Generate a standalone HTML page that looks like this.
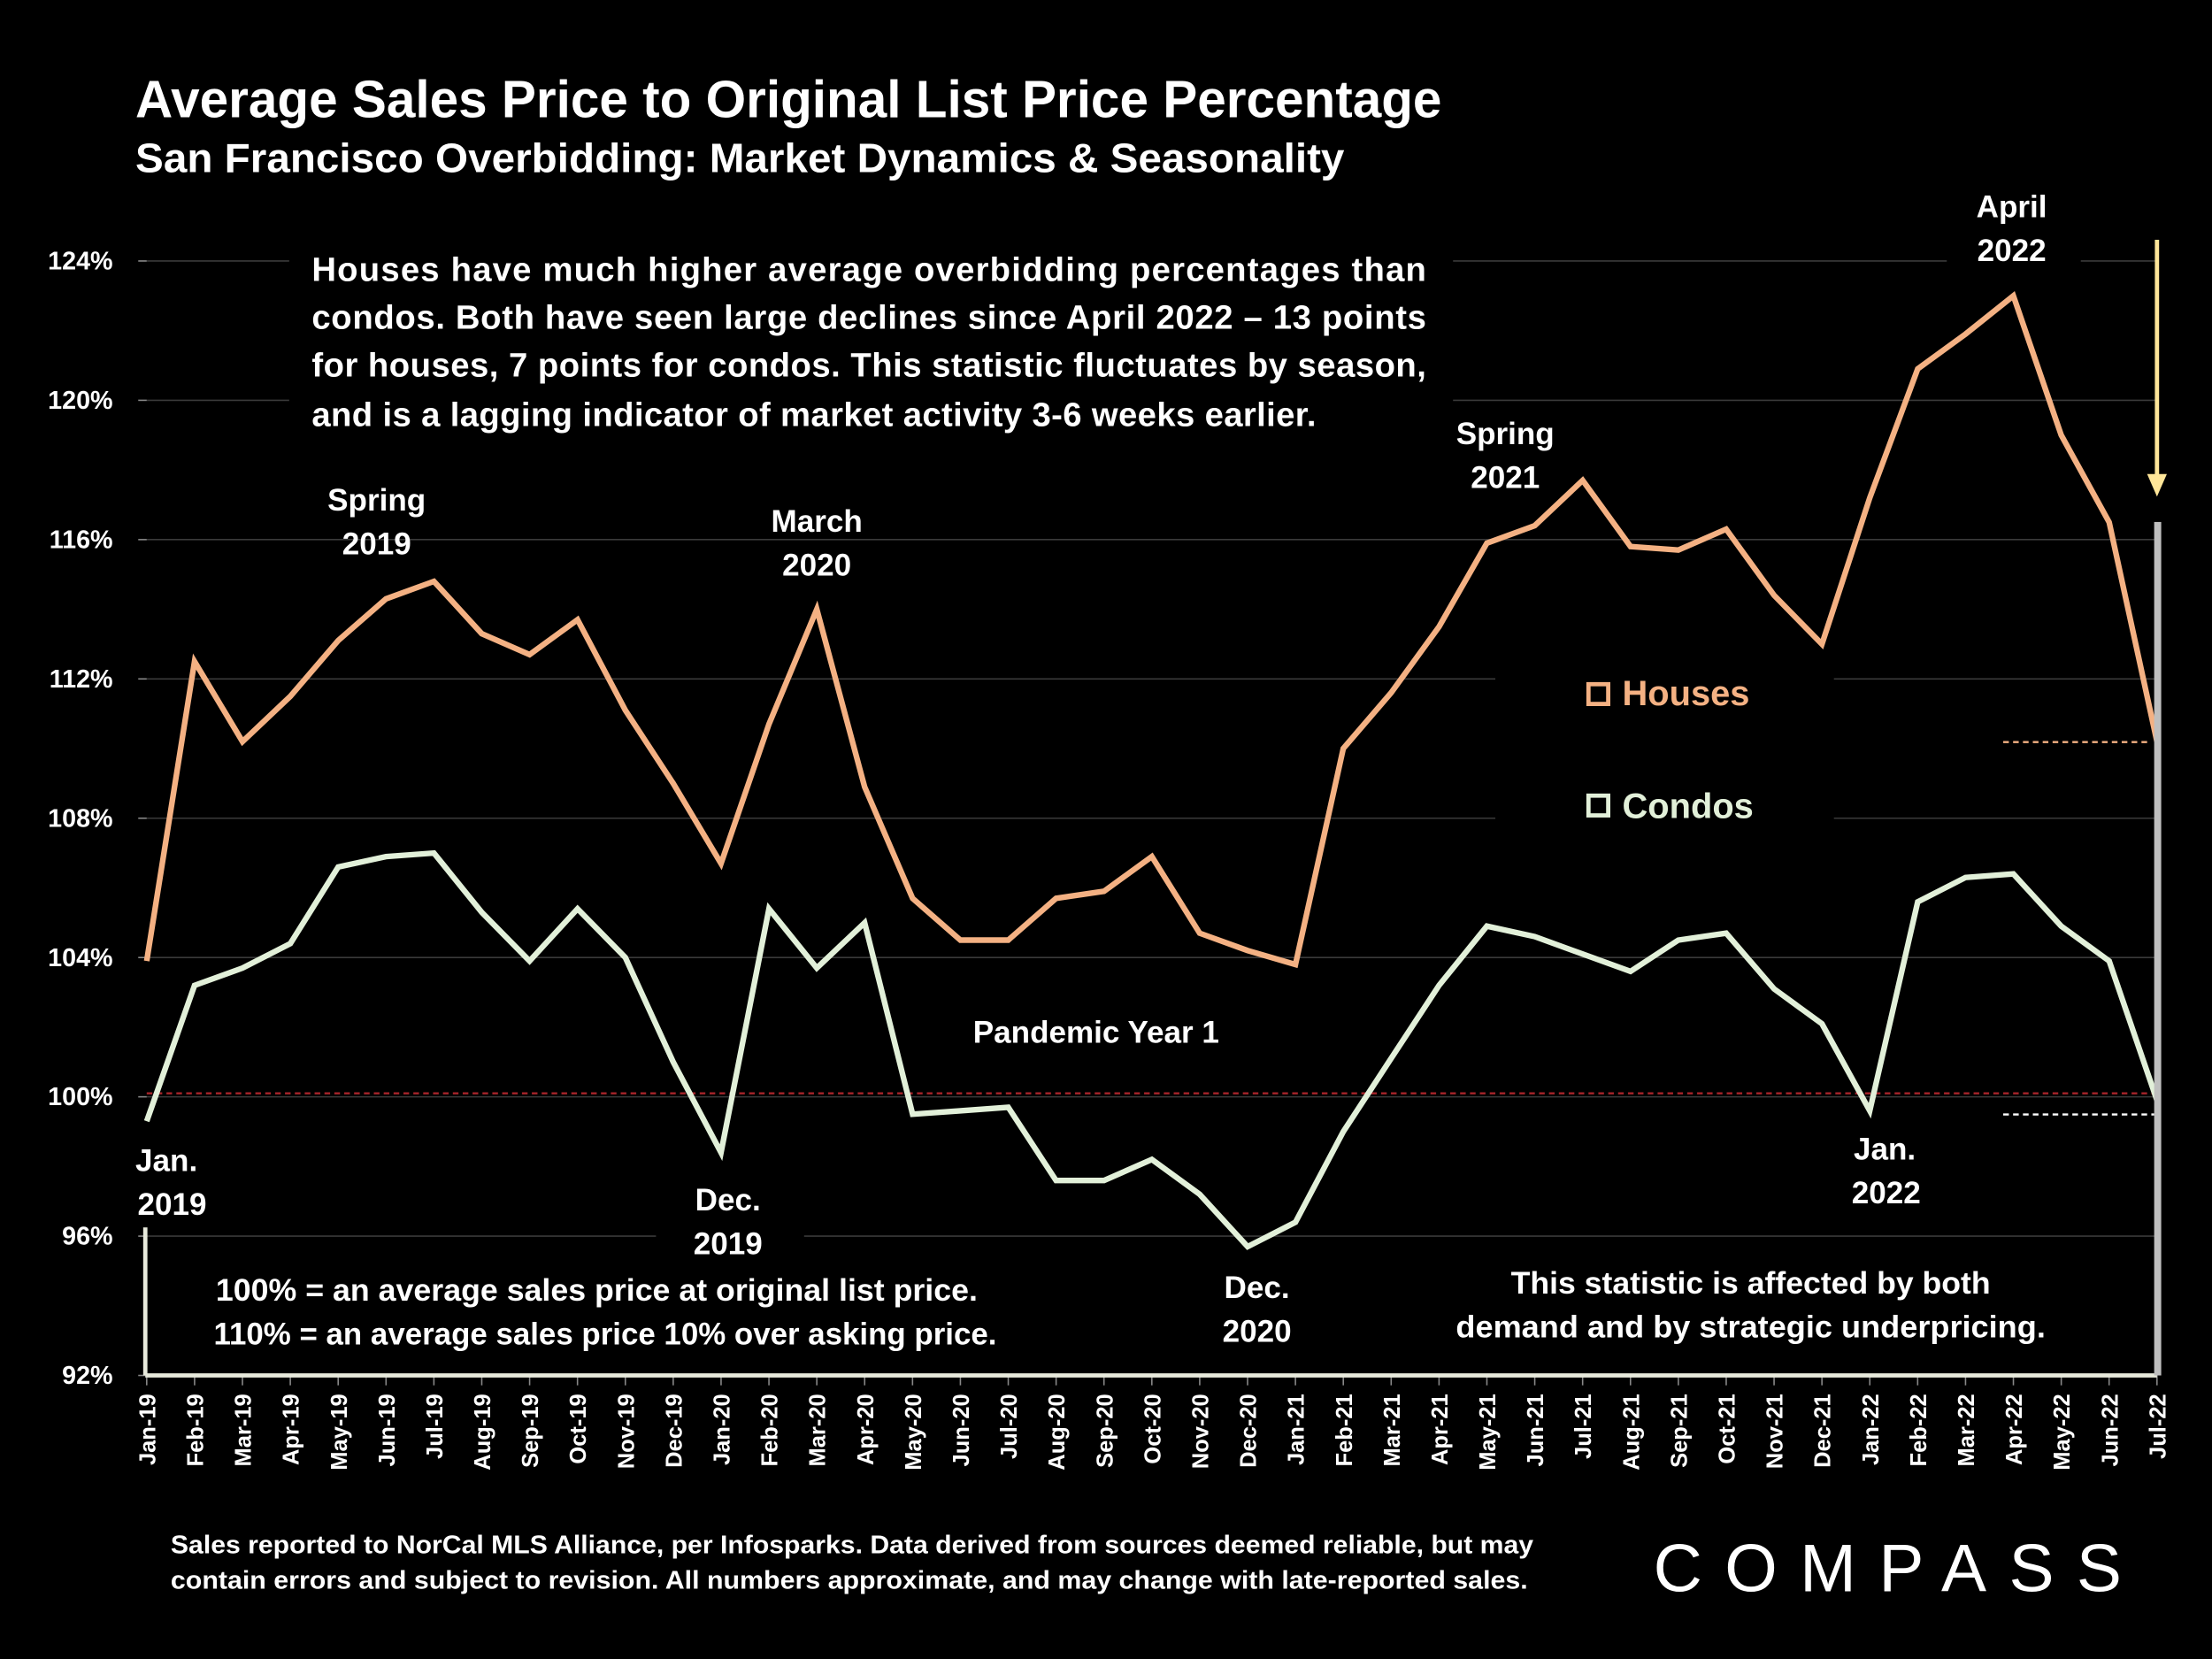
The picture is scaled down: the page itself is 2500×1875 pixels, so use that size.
<!DOCTYPE html>
<html><head><meta charset="utf-8"><style>
html,body{margin:0;padding:0;background:#000;}
svg{display:block;}
text{font-family:"Liberation Sans",sans-serif;font-weight:bold;}
</style></head><body>
<svg id="chart" width="2500" height="1875" viewBox="0 0 1568 1176" xmlns="http://www.w3.org/2000/svg">
<rect width="1568" height="1176" fill="#000"/>
<g id="grid"></g>
<g id="ticks"></g>
<line x1="104" y1="775" x2="1529" y2="775" stroke="#a8242a" stroke-width="1.5" stroke-dasharray="4,3"/>
<line x1="1420" y1="526" x2="1522" y2="526" stroke="#f4b183" stroke-width="1.5" stroke-dasharray="4,3"/>
<line x1="1420" y1="790" x2="1527" y2="790" stroke="#fff" stroke-width="1.5" stroke-dasharray="4,3"/>
<g id="series"></g>
<line x1="103" y1="975" x2="1529" y2="975" stroke="#e8eadc" stroke-width="3"/>
<line x1="103" y1="870" x2="103" y2="975" stroke="#e8eadc" stroke-width="3"/>
<rect x="1527" y="370" width="5" height="605" fill="#bfbfbf"/>
<g>
<line x1="1529" y1="170" x2="1529" y2="340" stroke="#ffe699" stroke-width="3"/>
<polygon points="1522,336 1536,336 1529,352" fill="#ffe699"/>
</g>
<text x="96" y="83" fill="#fff" font-size="37" textLength="926" lengthAdjust="spacingAndGlyphs">Average Sales Price to Original List Price Percentage</text>
<text x="96" y="122" fill="#fff" font-size="29" textLength="857" lengthAdjust="spacingAndGlyphs">San Francisco Overbidding: Market Dynamics &amp; Seasonality</text>
<g fill="#fff" font-size="24">
<rect x="205" y="168" width="825" height="145" fill="#000"/>
<text x="221" y="199" textLength="790" lengthAdjust="spacing">Houses have much higher average overbidding percentages than</text>
<text x="221" y="233" textLength="790" lengthAdjust="spacing">condos. Both have seen large declines since April 2022 – 13 points</text>
<text x="221" y="267" textLength="790" lengthAdjust="spacing">for houses, 7 points for condos. This statistic fluctuates by season,</text>
<text x="221" y="302" textLength="712" lengthAdjust="spacing">and is a lagging indicator of market activity 3-6 weeks earlier.</text>
</g>
<g fill="#fff" font-size="22" text-anchor="middle">
<rect x="1380" y="128" width="95" height="64" fill="#000"/>
<text><tspan x="1426" y="154">April</tspan><tspan x="1426" y="185">2022</tspan></text>
<text><tspan x="1067" y="315">Spring</tspan><tspan x="1067" y="346">2021</tspan></text>
<text><tspan x="267" y="362">Spring</tspan><tspan x="267" y="393">2019</tspan></text>
<text><tspan x="579" y="377">March</tspan><tspan x="579" y="408">2020</tspan></text>
<rect x="92" y="805" width="60" height="65" fill="#000"/>
<text><tspan x="118" y="830">Jan.</tspan><tspan x="122" y="861">2019</tspan></text>
<rect x="465" y="835" width="105" height="60" fill="#000"/>
<text><tspan x="516" y="858">Dec.</tspan><tspan x="516" y="889">2019</tspan></text>
<text><tspan x="891" y="920">Dec.</tspan><tspan x="891" y="951">2020</tspan></text>
<text><tspan x="1336" y="822">Jan.</tspan><tspan x="1337" y="853">2022</tspan></text>
<text x="777" y="739">Pandemic Year 1</text>
<rect x="140" y="897" width="580" height="68" fill="#000"/>
<text><tspan x="423" y="922" textLength="540" lengthAdjust="spacingAndGlyphs">100% = an average sales price at original list price.</tspan><tspan x="429" y="953" textLength="555" lengthAdjust="spacingAndGlyphs">110% = an average sales price 10% over asking price.</tspan></text>
<rect x="1025" y="890" width="440" height="68" fill="#000"/>
<text><tspan x="1241" y="917" textLength="340" lengthAdjust="spacingAndGlyphs">This statistic is affected by both</tspan><tspan x="1241" y="948" textLength="418" lengthAdjust="spacingAndGlyphs">demand and by strategic underpricing.</tspan></text>
</g>
<g>
<rect x="1060" y="465" width="240" height="125" fill="#000"/>
<g>
<rect x="1126" y="485" width="14" height="14" fill="none" stroke="#f4b183" stroke-width="3"/>
<text x="1150" y="500" fill="#f4b183" font-size="25">Houses</text>
</g>
<g>
<rect x="1126" y="564" width="14" height="14" fill="none" stroke="#e2f0d9" stroke-width="3"/>
<text x="1150" y="580" fill="#e2f0d9" font-size="25">Condos</text>
</g>
</g>
<text fill="#fff" font-size="18"><tspan x="121" y="1101" textLength="966" lengthAdjust="spacingAndGlyphs">Sales reported to NorCal MLS Alliance, per Infosparks. Data derived from sources deemed reliable, but may</tspan><tspan x="121" y="1126" textLength="962" lengthAdjust="spacingAndGlyphs">contain errors and subject to revision. All numbers approximate, and may change with late-reported sales.</tspan></text>
<text x="1172" y="1128" fill="#fff" font-size="48" style="font-weight:normal" textLength="332" lengthAdjust="spacing">COMPASS</text>
</svg>
<script>
const months = ["Jan-19","Feb-19","Mar-19","Apr-19","May-19","Jun-19","Jul-19","Aug-19","Sep-19","Oct-19","Nov-19","Dec-19","Jan-20","Feb-20","Mar-20","Apr-20","May-20","Jun-20","Jul-20","Aug-20","Sep-20","Oct-20","Nov-20","Dec-20","Jan-21","Feb-21","Mar-21","Apr-21","May-21","Jun-21","Jul-21","Aug-21","Sep-21","Oct-21","Nov-21","Dec-21","Jan-22","Feb-22","Mar-22","Apr-22","May-22","Jun-22","Jul-22"];
const houses = [103.9,112.5,110.2,111.5,113.1,114.3,114.8,113.3,112.7,113.7,111.1,109.0,106.7,110.7,114.0,108.9,105.7,104.5,104.5,105.7,105.9,106.9,104.7,104.2,103.8,110.0,111.6,113.5,115.9,116.4,117.7,115.8,115.7,116.3,114.4,113.0,117.2,120.9,121.9,123.0,119.0,116.5,110.2];
const condos = [99.3,103.2,103.7,104.4,106.6,106.9,107.0,105.3,103.9,105.4,104.0,101.0,98.4,105.4,103.7,105.0,99.5,99.6,99.7,97.6,97.6,98.2,97.2,95.7,96.4,99.0,101.1,103.2,104.9,104.6,104.1,103.6,104.5,104.7,103.1,102.1,99.6,105.6,106.3,106.4,104.9,103.9,99.9];
const yTicks = [92,96,100,104,108,112,116,120,124];

const NS="http://www.w3.org/2000/svg";
const x0=104,x1=1529,yTop=185,yBot=975,vMin=92,vMax=124;
function xScale(i){return x0+(x1-x0)*i/(months.length-1);}
function yScale(v){return yBot-(v-vMin)/(vMax-vMin)*(yBot-yTop);}
function mk(tag,attrs,parent){const e=document.createElementNS(NS,tag);for(const k in attrs)e.setAttribute(k,attrs[k]);parent.appendChild(e);return e;}
const grid=document.getElementById('grid'),ticks=document.getElementById('ticks'),series=document.getElementById('series');
yTicks.forEach(v=>{
  const y=yScale(v);
  if(v>vMin){
    const g=mk('line',{x1:x0,y1:y,x2:x1,y2:y,stroke:'#3a3a3a','stroke-width':1},grid);
    
    
  }
  const t=mk('text',{x:80,y:y+6,fill:'#fff','font-size':18,'text-anchor':'end'},ticks);
  t.textContent=v+'%';
  
  
  const tk=mk('line',{x1:x0-6,y1:y,x2:x0,y2:y,stroke:'#888'},ticks);
  
  
});
months.forEach((m,i)=>{
  const x=xScale(i);
  const tk=mk('line',{x1:x,y1:975,x2:x,y2:982,stroke:'#888'},ticks);
  
  
  const t=mk('text',{x:0,y:0,fill:'#fff','font-size':16,'text-anchor':'end',transform:`translate(${x+6},988) rotate(-90)`},ticks);
  t.textContent=m;
  
  
});
function drawLine(vals,color,name){
  const pts=vals.map((v,i)=>xScale(i).toFixed(1)+','+yScale(v).toFixed(1)).join(' ');
  const p=mk('polyline',{points:pts,fill:'none',stroke:color,'stroke-width':4,'stroke-linejoin':'miter'},series);
  
  
}
drawLine(houses,'#f4b183','houses-line');
drawLine(condos,'#e2f0d9','condos-line');
</script>
</body></html>
